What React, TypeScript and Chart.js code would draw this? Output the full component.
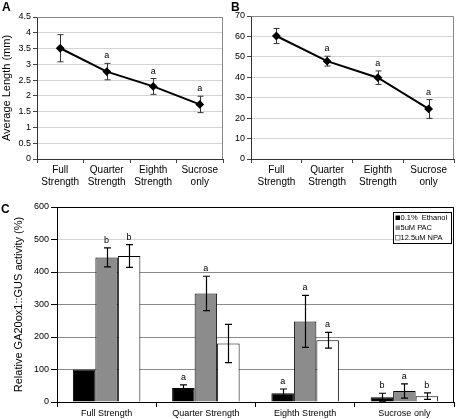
import React, { useEffect, useRef } from "react";
import { Chart, registerables } from "chart.js";
Chart.register(...registerables);

// ---------- data ----------
const categories = ["Full Strength", "Quarter Strength", "Eighth Strength", "Sucrose only"];
const categoryLines = [["Full", "Strength"], ["Quarter", "Strength"], ["Eighth", "Strength"], ["Sucrose", "only"]];

const lengthMean = [3.51, 2.77, 2.3, 1.73];
const lengthErr = [0.43, 0.26, 0.25, 0.26];
const lengthLetters = ["", "a", "a", "a"];

const countMean = [60.2, 47.9, 39.8, 24.5];
const countErr = [3.7, 2.4, 3.3, 4.6];
const countLetters = ["", "a", "a", "a"];

const seriesLabels = ["0.1%  Ethanol", "5uM PAC", "12.5uM NPA"];
const ethanol = [100, 43, 27, 15];
const ethanolErr = [0, 10, 13, 12];
const ethanolLetters = ["", "a", "a", "b"];
const pac = [445, 334, 248, 34];
const pacErr = [29, 53, 80, 22];
const pacLetters = ["b", "a", "a", "a"];
const npa = [449, 180, 190, 18];
const npaErr = [35, 59, 24, 10];
const npaLetters = ["b", "", "a", "b"];

const FONT = "'Liberation Sans Narrow', 'Liberation Sans', Arial, sans-serif";
const FONT_W = "'Liberation Sans', Arial, sans-serif";

// ---------- plugins ----------
function errorBarPlugin(o: { color: string; width: number; cap: number; gap: number; font: string; after: boolean }) {
  const draw = (chart: any) => {
    const ctx = chart.ctx;
    const y = chart.scales.y;
    chart.data.datasets.forEach((ds: any, i: number) => {
      const meta = chart.getDatasetMeta(i);
      meta.data.forEach((el: any, j: number) => {
        const v = ds.data[j];
        const e = ds.errors[j];
        const x = Math.round(el.x) + 0.5;
        const top = y.getPixelForValue(v + e);
        const bot = y.getPixelForValue(v - e);
        ctx.save();
        if (e > 0) {
          ctx.strokeStyle = o.color;
          ctx.lineWidth = o.width;
          ctx.beginPath();
          ctx.moveTo(x, top);
          ctx.lineTo(x, bot);
          ctx.moveTo(x - o.cap, top);
          ctx.lineTo(x + o.cap, top);
          ctx.moveTo(x - o.cap, bot);
          ctx.lineTo(x + o.cap, bot);
          ctx.stroke();
        }
        const letter = ds.letters[j];
        if (letter) {
          ctx.fillStyle = "#000";
          ctx.font = o.font;
          ctx.textAlign = "center";
          ctx.textBaseline = "bottom";
          ctx.fillText(letter, el.x, top - o.gap);
        }
        ctx.restore();
      });
    });
  };
  return o.after
    ? { id: "errorBars", afterDatasetsDraw: draw }
    : { id: "errorBars", beforeDatasetsDraw: draw };
}

function framePlugin(color: string) {
  return {
    id: "frame",
    beforeDatasetsDraw(chart: any) {
      const { ctx, chartArea: a } = chart;
      const t = Math.round(a.top) + 0.5;
      const r = Math.round(a.right) - 0.5;
      const b = Math.round(a.bottom);
      ctx.save();
      ctx.strokeStyle = color;
      ctx.lineWidth = 1;
      ctx.beginPath();
      ctx.moveTo(a.left, t);
      ctx.lineTo(r, t);
      ctx.lineTo(r, b);
      ctx.stroke();
      ctx.restore();
    },
  };
}

const legendBoxPlugin = {
  id: "legendBox",
  afterDraw(chart: any) {
    const { ctx, chartArea: a } = chart;
    const x0 = Math.round(a.right) - 61 + 0.5;
    const y0 = Math.round(a.top) + 5 + 0.5;
    const w = 58;
    const h = 31;
    ctx.save();
    ctx.fillStyle = "#fff";
    ctx.fillRect(x0, y0, w, h);
    ctx.strokeStyle = "#000";
    ctx.lineWidth = 1;
    ctx.strokeRect(x0, y0, w, h);
    ctx.font = `7.5px ${FONT_W}`;
    ctx.textBaseline = "middle";
    ctx.textAlign = "left";
    chart.data.datasets.forEach((ds: any, i: number) => {
      const cy = y0 + 5 + i * 10;
      ctx.fillStyle = ds.backgroundColor;
      ctx.fillRect(x0 + 2, cy - 2, 4.5, 4.5);
      if (ds.backgroundColor === "#ffffff") {
        ctx.lineWidth = 0.8;
        ctx.strokeStyle = "#666";
        ctx.strokeRect(x0 + 2, cy - 2, 4.5, 4.5);
      }
      ctx.fillStyle = "#000";
      ctx.fillText(ds.label, x0 + 7, cy + 0.5);
    });
    ctx.restore();
  },
};

// ---------- chart builders ----------
function lineConfig(values: number[], errs: number[], letters: string[], max: number, step: number, yWidth: number, padTop: number, padRight: number, title: string | null): any {
  return {
    type: "line",
    data: {
      labels: categoryLines,
      datasets: [
        {
          data: values,
          errors: errs,
          letters: letters,
          borderColor: "#000",
          borderWidth: 2,
          pointStyle: "rectRot",
          pointRadius: 3,
          pointBackgroundColor: "#000",
          pointBorderColor: "#000",
          tension: 0,
        },
      ],
    },
    options: {
      animation: false,
      responsive: false,
      events: [],
      layout: { padding: { top: padTop, right: padRight, left: 0, bottom: 0 } },
      plugins: { legend: { display: false }, tooltip: { enabled: false } },
      scales: {
        x: {
          offset: true,
          grid: { offset: true, drawOnChartArea: false, tickLength: 4, color: "#444" },
          border: { color: "#333" },
          ticks: { font: { family: FONT, size: 10 }, color: "#000", padding: 1, maxRotation: 0, autoSkip: false },
          afterFit: (s: any) => {
            s.height = 36;
          },
        },
        y: {
          min: 0,
          max: max,
          ticks: {
            stepSize: step,
            font: { family: FONT, size: 9 },
            color: "#000",
            padding: 2,
            callback: (v: any) => String(Math.round(Number(v) * 10) / 10),
          },
          grid: { color: "#d4d4d4", tickColor: "#444", tickLength: 4 },
          border: { color: "#333" },
          title: {
            display: !!title,
            text: title || "",
            font: { family: FONT_W, size: 11 },
            color: "#000",
            padding: { top: 0, bottom: 0 },
          },
          afterFit: (s: any) => {
            s.width = yWidth;
          },
        },
      },
    },
    plugins: [
      framePlugin("#888"),
      errorBarPlugin({ color: "#333", width: 1, cap: 3, gap: 3, font: `9px ${FONT_W}`, after: false }),
    ],
  };
}

function barConfig(): any {
  const mk = (label: string, data: number[], errs: number[], letters: string[], color: string) => ({
    label,
    data,
    errors: errs,
    letters,
    backgroundColor: color,
    borderColor: "#000",
    borderWidth: 1,
    categoryPercentage: 0.68,
    barPercentage: 1,
  });
  return {
    type: "bar",
    data: {
      labels: categories,
      datasets: [
        mk(seriesLabels[0], ethanol, ethanolErr, ethanolLetters, "#000000"),
        mk(seriesLabels[1], pac, pacErr, pacLetters, "#8c8c8c"),
        mk(seriesLabels[2], npa, npaErr, npaLetters, "#ffffff"),
      ],
    },
    options: {
      animation: false,
      responsive: false,
      events: [],
      layout: { padding: { top: 12, right: 6, left: 0, bottom: 0 } },
      plugins: { legend: { display: false }, tooltip: { enabled: false } },
      scales: {
        x: {
          grid: { offset: true, drawOnChartArea: false, tickLength: 5, color: "#000" },
          border: { color: "#000" },
          ticks: { font: { family: FONT_W, size: 9 }, color: "#000", padding: 1, maxRotation: 0, autoSkip: false },
          afterFit: (s: any) => {
            s.height = 17;
          },
        },
        y: {
          min: 0,
          max: 600,
          ticks: { stepSize: 100, font: { family: FONT_W, size: 9 }, color: "#000", padding: 2 },
          grid: {
            color: (c: any) => (c.tick && c.tick.value === 500 ? "#d6d6d6" : "#8a8a8a"),
            tickColor: "#000",
            tickLength: 6,
          },
          border: { color: "#000" },
          title: {
            display: true,
            text: "Relative GA20ox1::GUS activity (%)",
            font: { family: FONT_W, size: 11 },
            color: "#000",
            padding: { top: 12, bottom: 0 },
          },
          afterFit: (s: any) => {
            s.width = 57;
          },
        },
      },
    },
    plugins: [
      framePlugin("#000"),
      errorBarPlugin({ color: "#000", width: 1.2, cap: 3.5, gap: 3, font: `9px ${FONT_W}`, after: true }),
      legendBoxPlugin,
    ],
  };
}

function ChartCanvas({ config, left, top, width, height }: { config: () => any; left: number; top: number; width: number; height: number }) {
  const ref = useRef<HTMLCanvasElement | null>(null);
  useEffect(() => {
    if (!ref.current) return;
    const chart = new Chart(ref.current, config());
    return () => chart.destroy();
  }, []);
  return (
    <canvas
      ref={ref}
      width={width}
      height={height}
      style={{ position: "absolute", left, top, width, height }}
    />
  );
}

const panelLetter = (l: number, t: number): React.CSSProperties => ({
  position: "absolute",
  left: l,
  top: t,
  font: `bold 12px ${FONT_W}`,
  lineHeight: "12px",
  color: "#000",
});

export default function App() {
  return (
    <div style={{ position: "fixed", left: 0, top: 0, width: 460, height: 419, background: "#fff", overflow: "hidden" }}>
      <ChartCanvas
        config={() => lineConfig(lengthMean, lengthErr, lengthLetters, 4.5, 0.5, 37, 17, 7, "Average Length (mm)")}
        left={0}
        top={0}
        width={230}
        height={195}
      />
      <ChartCanvas
        config={() => lineConfig(countMean, countErr, countLetters, 70, 10, 21, 16, 2, null)}
        left={230}
        top={0}
        width={230}
        height={195}
      />
      <ChartCanvas config={barConfig} left={0} top={195} width={460} height={224} />
      <div style={panelLetter(2, 1)}>A</div>
      <div style={panelLetter(231, 1)}>B</div>
      <div style={panelLetter(1, 203)}>C</div>
    </div>
  );
}
